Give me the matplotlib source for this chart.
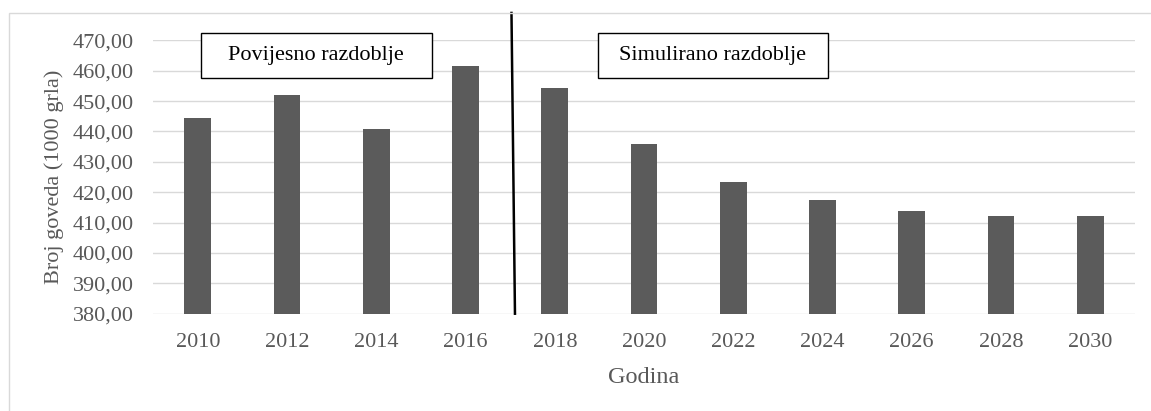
import matplotlib
matplotlib.use("Agg")
import matplotlib.pyplot as plt
from matplotlib.patches import Rectangle

years = ["2010", "2012", "2014", "2016", "2018", "2020", "2022", "2024", "2026", "2028", "2030"]
values = [444.3, 452.1, 440.7, 461.6, 454.3, 435.8, 423.5, 417.4, 413.8, 412.1, 412.1]
yticks = [380, 390, 400, 410, 420, 430, 440, 450, 460, 470]
ytick_labels = [f"{v:.2f}".replace(".", ",") for v in yticks]
label_hist = "Povijesno razdoblje"
label_sim = "Simulirano razdoblje"
xlabel = "Godina"
ylabel = "Broj goveda (1000 grla)"

plt.rcParams['font.family'] = ['Liberation Serif', 'DejaVu Serif']
W, H = 1151, 411
fig = plt.figure(figsize=(W / 100, H / 100), dpi=100)
fig.patch.set_facecolor("white")

# outer chart frame
fig.patches.append(Rectangle((9.3 / W, -0.1), 1.2, (H - 13.3) / H + 0.1,
                             transform=fig.transFigure, fill=False,
                             edgecolor="#d9d9d9", lw=1.0))

ax = fig.add_axes([153.2 / W, 97.3 / H, 981.6 / W, 273.4 / H])
x = list(range(len(years)))
ax.bar(x, values, width=0.30, color="#5b5b5b", zorder=3)
ax.set_xlim(-0.5, len(years) - 0.5)
ax.set_ylim(380, 470)
ax.set_yticks(yticks)
ax.set_yticklabels(ytick_labels)
ax.set_xticks(x)
ax.set_xticklabels(years)
ax.grid(axis="y", color="#d9d9d9", lw=1.0, zorder=0)
ax.set_axisbelow(True)
for s in ax.spines.values():
    s.set_visible(False)
ax.tick_params(length=0, labelsize=16, colors="#595959")
ax.tick_params(axis="y", pad=14)
ax.tick_params(axis="x", pad=14)
ax.set_xlabel(xlabel, fontsize=17.5, color="#595959")
ax.set_ylabel(ylabel, fontsize=16, color="#595959")
ax.xaxis.label.set_va("center")
ax.xaxis.set_label_coords(0.5, (411 - 377 - 97.3) / 273.4)
ax.yaxis.label.set_va("center")
ax.yaxis.set_label_coords((54 - 153.2) / 981.6, 0.5)

# divider line between historical and simulated period
ax.plot([3.515, 3.554], [479.0, 380.0], color="black", lw=1.8, clip_on=False, zorder=5)

# text boxes
for (x0, x1, txt) in [(0.033, 2.624, label_hist), (4.483, 7.06, label_sim)]:
    ax.add_patch(Rectangle((x0, 457.5), x1 - x0, 15.0, facecolor="white",
                           edgecolor="black", lw=1.0, clip_on=False, zorder=6))
    ax.text((x0 + x1) / 2, 465.0, txt, ha="center", va="center", fontsize=16,
            color="black", zorder=7)

fig.savefig("out.png", dpi=100)
